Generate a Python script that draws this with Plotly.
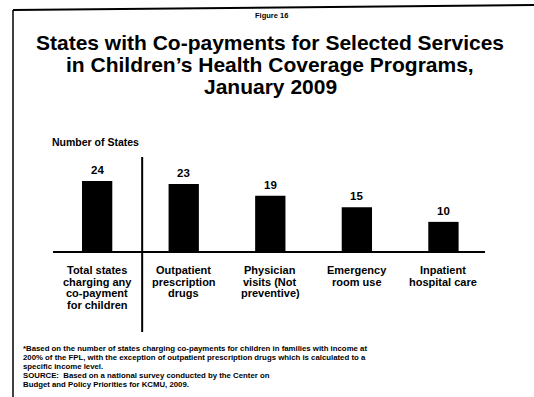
import plotly.graph_objects as go

# Data
category_lines = [
    ["Total states", "charging any", "co-payment", "for children"],
    ["Outpatient", "prescription", "drugs"],
    ["Physician", "visits (Not", "preventive)"],
    ["Emergency", "room use"],
    ["Inpatient", "hospital care"],
]
states = [24, 23, 19, 15, 10]

title_lines = [
    "States with Co-payments for Selected Services",
    "in Children’s Health Coverage Programs,",
    "January 2009",
]
footnote_lines = [
    "*Based on the number of states charging co-payments for children in families with income at",
    "200% of the FPL, with the exception of outpatient prescription drugs which is calculated to a",
    "specific income level.",
    "SOURCE:  Based on a national survey conducted by the Center on",
    "Budget and Policy Priorities for KCMU, 2009.",
]

W, H = 534, 397
L, R, T, B = 53, 49, 163, 146
FONT = "Liberation Sans, Arial, Helvetica, sans-serif"

# pixel -> paper helpers for the frame and free text
def px(x):
    return (x - L) / (W - L - R)

def py(y):
    return (H - B - y) / (H - T - B)

xs = list(range(len(states)))

fig = go.Figure(
    go.Bar(
        x=xs,
        y=states,
        width=0.35,
        marker=dict(color="#000000", line=dict(width=0)),
        hoverinfo="x+y",
    )
)

fig.update_layout(
    width=W,
    height=H,
    margin=dict(l=L, r=R, t=T, b=B),
    paper_bgcolor="white",
    plot_bgcolor="white",
    showlegend=False,
    font=dict(family=FONT, color="#000000"),
)

fig.update_xaxes(
    range=[-0.51, 4.48],
    showticklabels=False,
    showgrid=False,
    zeroline=False,
    showline=True,
    linecolor="#000000",
    linewidth=1.5,
    ticks="",
)
fig.update_yaxes(range=[0, 30.2], visible=False)

annotations = []

# value labels above each bar
for x, v in zip(xs, states):
    annotations.append(dict(text=f"<b>{v}</b>", x=x, y=v, xref="x", yref="y",
                            yshift=11, font=dict(size=11.5)))

# category labels under the baseline, one line at a time
for x, lines in zip(xs, category_lines):
    for j, line in enumerate(lines):
        annotations.append(dict(text=f"<b>{line}</b>", x=x, y=py(270 + 11.7 * j),
                                xref="x", yref="paper", font=dict(size=11)))

annotations.append(dict(text="<b>Figure 16</b>", x=px(271), y=py(15), font=dict(size=7.5)))
annotations.append(dict(text="<b>Number of States</b>", x=px(50), y=py(142),
                        xanchor="left", font=dict(size=10.5)))
for i, line in enumerate(title_lines):
    annotations.append(dict(text=f"<b>{line}</b>", x=px(270), y=py(42 + 22 * i),
                            font=dict(size=21)))
for i, line in enumerate(footnote_lines):
    annotations.append(dict(text=f"<b>{line}</b>", x=px(21), y=py(348 + 9 * i),
                            xanchor="left", font=dict(size=7.8)))

for a in annotations:
    a.setdefault("xanchor", "center")
    a.setdefault("yanchor", "middle")
    a.setdefault("xref", "paper")
    a.setdefault("yref", "paper")
    a["showarrow"] = False
    a["font"] = dict(family=FONT, color="#000000", **a["font"])
fig.update_layout(annotations=annotations)

# divider between total and individual services, plus the page frame
fig.add_shape(type="line", xref="x", yref="paper", x0=0.52, x1=0.52,
              y0=py(157), y1=py(332), line=dict(color="#000000", width=2))
fig.add_shape(type="line", xref="paper", yref="paper", x0=px(13), x1=px(534),
              y0=py(10), y1=py(5), line=dict(color="#000000", width=2))
fig.add_shape(type="line", xref="paper", yref="paper", x0=px(13), x1=px(13),
              y0=py(10), y1=py(397), line=dict(color="#000000", width=1.5))

fig.write_html("out.html")
